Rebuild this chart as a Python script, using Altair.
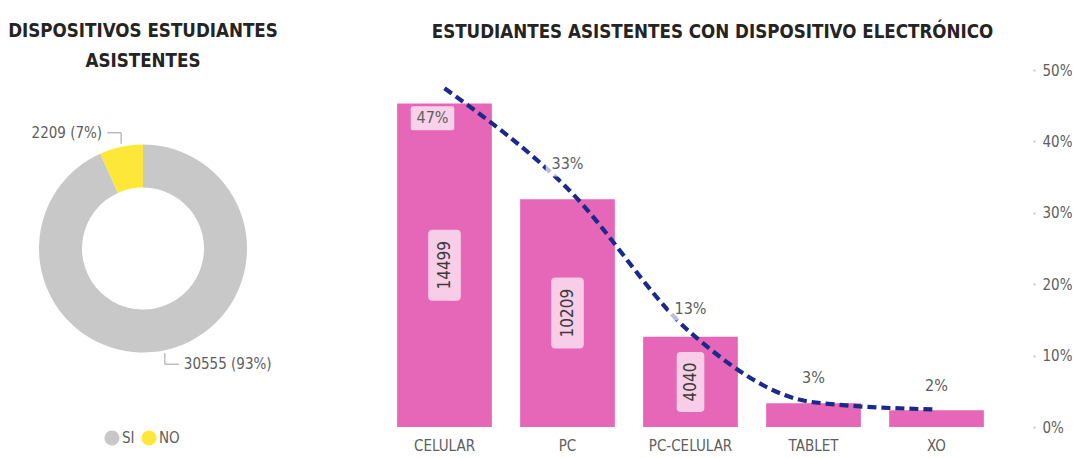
import altair as alt
import pandas as pd

# ---------------- data ----------------
donut_cats = ["SI", "NO"]
donut_vals = [30555, 2209]
donut_order = [0, 1]
donut_colors = ["#C8C8C8", "#FDE83A"]

dev_cats = ["CELULAR", "PC", "PC-CELULAR", "TABLET", "XO"]
dev_vals = [14499, 10209, 4040, 1060, 747]
pct_ticks = [0, 0.1, 0.2, 0.3, 0.4, 0.5]

left_title = ["DISPOSITIVOS ESTUDIANTES", "ASISTENTES"]
right_title = "ESTUDIANTES ASISTENTES CON DISPOSITIVO ELECTRÓNICO"

# ---------------- style ----------------
FONT = "Liberation Sans Narrow, DejaVu Sans Condensed, Roboto Condensed, Roboto, sans-serif"
GRAY = "#605E5C"
DARK = "#252423"
PINK = "#E667B7"
PINK_BOX = "#F7CDE8"
NAVY = "#1A2A8C"

W_L, H = 270, 357
W_R = 615
R_OUT, R_IN = 104, 61
TSIZE = 18.6

donut_df = pd.DataFrame({"cat": donut_cats, "val": donut_vals, "ord": donut_order})
dev_df = pd.DataFrame({"cat": dev_cats, "val": dev_vals})

# ---------------- donut ----------------
xs = alt.Scale(domain=[-W_L / 2, W_L / 2], nice=False, zero=False)
ys = alt.Scale(domain=[-H / 2, H / 2], nice=False, zero=False)

base_l = (
    alt.Chart(donut_df)
    .transform_joinaggregate(total="sum(val)")
    .transform_window(cum="sum(val)", sort=[alt.SortField("ord")], frame=[None, 0])
    .transform_calculate(
        mid="(datum.cum - datum.val/2)/datum.total*2*PI",
        label="datum.val + ' (' + format(datum.val/datum.total, '.0%') + ')'",
    )
    .transform_calculate(
        px=f"{R_OUT}*sin(datum.mid)",
        py=f"{R_OUT}*cos(datum.mid)",
    )
    .transform_calculate(
        sx="datum.px < 0 ? -1 : 1",
        sy="datum.py < 0 ? -1 : 1",
    )
)

arc = base_l.mark_arc(outerRadius=R_OUT, innerRadius=R_IN, strokeWidth=0).encode(
    theta=alt.Theta("val:Q", stack=True),
    order=alt.Order("ord:Q"),
    color=alt.Color(
        "cat:N",
        scale=alt.Scale(domain=donut_cats, range=donut_colors),
        legend=alt.Legend(
            title=None, orient="none", legendX=96, legendY=360, direction="horizontal",
            symbolType="circle", symbolSize=230, symbolStrokeWidth=0,
            labelFont=FONT, labelFontSize=15, labelColor=GRAY, columnPadding=6,
            labelOffset=2,
        ),
    ),
    x=alt.X(datum=0, type="quantitative", scale=xs, axis=None),
    y=alt.Y(datum=0, type="quantitative", scale=ys, axis=None),
)

leader = (
    base_l.transform_calculate(s0="0", s1="1", s2="2")
    .transform_fold(["s0", "s1", "s2"], as_=["k", "step"])
    .transform_calculate(
        lx="datum.step == 2 ? datum.px + datum.sx*14 : datum.px",
        ly="datum.step == 0 ? datum.py + datum.sy*3 : datum.py + datum.sy*14",
    )
    .mark_line(color="#9E9E9E", strokeWidth=1)
    .encode(
        x=alt.X("lx:Q", scale=xs, axis=None),
        y=alt.Y("ly:Q", scale=ys, axis=None),
        detail="cat:N",
        order="step:Q",
    )
)

lab_base = base_l.transform_calculate(
    tx="datum.px + datum.sx*19", ty="datum.py + datum.sy*14"
)
lab_left = lab_base.transform_filter("datum.sx < 0").mark_text(
    align="right", baseline="middle", font=FONT, fontSize=15, color=GRAY
).encode(
    x=alt.X("tx:Q", scale=xs, axis=None), y=alt.Y("ty:Q", scale=ys, axis=None), text="label:N"
)
lab_right = lab_base.transform_filter("datum.sx > 0").mark_text(
    align="left", baseline="middle", font=FONT, fontSize=15, color=GRAY
).encode(
    x=alt.X("tx:Q", scale=xs, axis=None), y=alt.Y("ty:Q", scale=ys, axis=None), text="label:N"
)

left = alt.layer(arc, leader, lab_left, lab_right).properties(
    width=W_L,
    height=H,
    title=alt.TitleParams(
        left_title, anchor="middle", font=FONT, fontSize=TSIZE, fontWeight="bold",
        color=DARK, lineHeight=30, offset=-1,
    ),
)

# ---------------- bars + line ----------------
xb = alt.X(
    "cat:N",
    sort=dev_cats,
    scale=alt.Scale(paddingInner=0.23, paddingOuter=0.115),
    axis=alt.Axis(
        title=None, labelAngle=0, ticks=False, domain=False, labelFont=FONT,
        labelFontSize=15, labelColor=GRAY, labelPadding=11,
    ),
)
yl_scale = alt.Scale(domain=[0, 16000], nice=False)
yp_scale = alt.Scale(domain=[0, 0.5], nice=False)

base_r = (
    alt.Chart(dev_df)
    .transform_joinaggregate(total="sum(val)")
    .transform_window(rk="rank()", sort=[alt.SortField("val", order="descending")])
    .transform_calculate(
        pct="datum.val/datum.total",
        half="datum.val/2",
        vlab="format(datum.val, 'd')",
        plab="format(datum.val/datum.total, '.0%')",
    )
    .transform_calculate(bsz="pow(length(datum.vlab)*11 + 16, 2)")
)

bars = base_r.mark_bar(color=PINK).encode(
    x=xb, y=alt.Y("val:Q", scale=yl_scale, axis=None)
)

box_path = (
    "M -0.34,-1 L 0.34,-1 Q 0.46,-1 0.46,-0.88 L 0.46,0.88 Q 0.46,1 0.34,1 "
    "L -0.34,1 Q -0.46,1 -0.46,0.88 L -0.46,-0.88 Q -0.46,-1 -0.34,-1 Z"
)
val_boxes = base_r.transform_filter("datum.val > 3000").mark_point(
    shape=box_path, filled=True, color=PINK_BOX, opacity=1
).encode(
    x=xb,
    y=alt.Y("half:Q", scale=yl_scale, axis=None),
    size=alt.Size("bsz:Q", scale=None, legend=None),
)
val_text = base_r.transform_filter("datum.val > 3000").mark_text(
    angle=270, font=FONT, fontSize=17, color="#3B3A39", baseline="middle", align="center"
).encode(
    x=xb, y=alt.Y("half:Q", scale=yl_scale, axis=None), text="vlab:N"
)

line = base_r.mark_line(
    color=NAVY, strokeWidth=4.2, strokeDash=[9, 5], interpolate="monotone"
).encode(
    x=xb,
    y=alt.Y(
        "pct:Q",
        scale=yp_scale,
        axis=alt.Axis(
            orient="right", values=pct_ticks, format=".0%", title=None, domain=False,
            ticks=True, tickSize=2, tickWidth=2, tickColor="#C8C8C8", offset=35,
            labelPadding=7, labelFont=FONT, labelFontSize=15, labelColor=GRAY, grid=False,
        ),
    ),
)

pbox_path = (
    "M -0.9,-0.55 L 0.9,-0.55 Q 1,-0.55 1,-0.45 L 1,0.45 Q 1,0.55 0.9,0.55 "
    "L -0.9,0.55 Q -1,0.55 -1,0.45 L -1,-0.45 Q -1,-0.55 -0.9,-0.55 Z"
)


def pct_labels(flt, yoff, xoff):
    b = base_r.transform_filter(flt)
    bx = b.mark_point(
        shape=pbox_path, filled=True, color="white", opacity=0.7, size=1900,
        yOffset=yoff, xOffset=xoff,
    ).encode(x=xb, y=alt.Y("pct:Q", scale=yp_scale, axis=None))
    tx = b.mark_text(
        font=FONT, fontSize=16, color=GRAY, baseline="middle", align="center",
        yOffset=yoff, xOffset=xoff,
    ).encode(x=xb, y=alt.Y("pct:Q", scale=yp_scale, axis=None), text="plab:N")
    return [bx, tx]


plabs = pct_labels("datum.rk == 1", 30, -12) + pct_labels("datum.rk > 1", -24, 0)

right = (
    alt.layer(bars, val_boxes, val_text, line, *plabs)
    .resolve_scale(y="independent")
    .properties(
        width=W_R,
        height=H,
        title=alt.TitleParams(
            right_title, anchor="middle", font=FONT, fontSize=TSIZE, fontWeight="bold",
            color=DARK, offset=21, dx=22,
        ),
    )
)

chart = (
    alt.hconcat(left, right, spacing=105)
    .properties(padding={"left": 0, "top": 14, "right": 0, "bottom": 0}, background="white")
    .configure_view(stroke=None)
)

chart.save("out.html", embed_options={"renderer": "svg", "actions": False})
